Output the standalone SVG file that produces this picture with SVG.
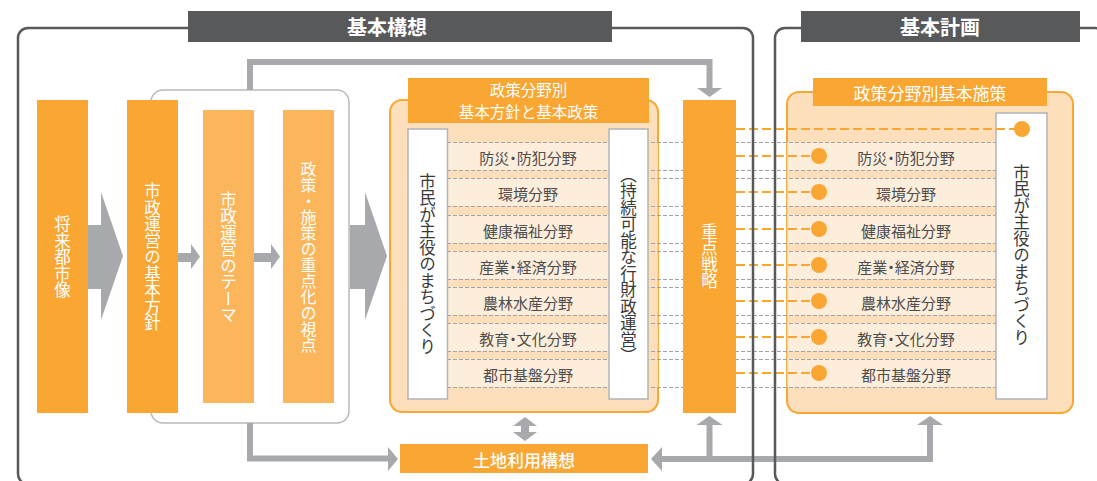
<svg xmlns="http://www.w3.org/2000/svg" width="1097" height="481" viewBox="0 0 1097 481">
<defs>
<style>
text { font-family: "Noto Sans CJK JP", "Noto Sans", sans-serif; }
.col { fill: #f9a633; }
.col2 { fill: #fbb65c; }
.vw { writing-mode: vertical-rl; text-anchor: middle; fill: #ffffff; font-size: 16.5px; }
.vd { writing-mode: vertical-rl; text-anchor: middle; fill: #3a3a3a; font-size: 16.5px; }
.panel { fill: #fde0bb; stroke: #f9a633; stroke-width: 2; }
.row { fill: #fdeedc; }
.rt { font-size: 15px; fill: #4d4d4d; text-anchor: middle; dominant-baseline: central; font-feature-settings: "palt"; }
.hdr { fill: #f9a633; }
.ht { fill: #ffffff; text-anchor: middle; dominant-baseline: central; font-size: 16px; }
.wbox { fill: #ffffff; stroke: #b3b4b6; stroke-width: 1.5; }
.gbox { fill: #ffffff; stroke: #b8b9bb; stroke-width: 1.5; }
.gd { stroke: #a3a3a3; stroke-width: 1; stroke-dasharray: 4 2; fill: none; }
.od { stroke: #f9a633; stroke-width: 2; stroke-dasharray: 9 4; fill: none; }
.dot { fill: #f9a633; }
.gl { stroke: #a7a9ac; stroke-width: 6; fill: none; stroke-linejoin: miter; }
.ga { fill: #a7a9ac; }
.frame { fill: none; stroke: #58595b; stroke-width: 2.5; }
.tbar { fill: #58595b; }
.tt { fill: #ffffff; font-size: 20px; font-weight: bold; text-anchor: middle; dominant-baseline: central; }
.green { stroke: #cfe5bd; stroke-width: 1.2; }
</style>
</defs>
<rect width="1097" height="481" fill="#ffffff"/>

<!-- policy panel (middle) -->
<g id="panel-policy">
  <rect class="panel" x="390" y="100" width="268" height="312" rx="12"/>
  <rect class="hdr" x="408" y="78" width="241" height="45"/>
  <text class="ht" style="font-size:15.5px"><tspan x="528.5" y="88.5">政策分野別</tspan><tspan x="528.5" y="111">基本方針と基本政策</tspan></text>
</g>

<!-- measures panel (right) -->
<g id="panel-measures">
  <rect class="panel" x="787" y="92" width="286" height="321" rx="12"/>
  <rect class="hdr" x="813" y="78" width="234" height="28"/>
  <text class="ht" x="930" y="92.5" style="font-size:17px">政策分野別基本施策</text>
</g>

<!-- policy field rows -->
<g id="rows">
  <rect class="row" x="447" y="142" width="162" height="28"/>
  <rect class="row" x="447" y="178" width="162" height="28"/>
  <rect class="row" x="447" y="215" width="162" height="28"/>
  <rect class="row" x="447" y="251" width="162" height="28"/>
  <rect class="row" x="447" y="287" width="162" height="28"/>
  <rect class="row" x="447" y="323" width="162" height="28"/>
  <rect class="row" x="447" y="359" width="162" height="28"/>
  <rect class="row" x="787" y="142" width="209" height="28"/>
  <rect class="row" x="787" y="178" width="209" height="28"/>
  <rect class="row" x="787" y="215" width="209" height="28"/>
  <rect class="row" x="787" y="251" width="209" height="28"/>
  <rect class="row" x="787" y="287" width="209" height="28"/>
  <rect class="row" x="787" y="323" width="209" height="28"/>
  <rect class="row" x="787" y="359" width="209" height="28"/>
  <line class="green" x1="657.5" y1="142" x2="657.5" y2="387"/>
  <line class="green" x1="787.5" y1="142" x2="787.5" y2="387"/>
  <path class="gd" d="M447,142.5H996M447,170.5H996M447,178.5H996M447,206.5H996M447,215.5H996M447,243.5H996M447,251.5H996M447,279.5H996M447,287.5H996M447,315.5H996M447,323.5H996M447,351.5H996M447,359.5H996M447,387.5H996"/>
  <text class="rt" x="528" y="157">防災・防犯分野</text>
  <text class="rt" x="528" y="193">環境分野</text>
  <text class="rt" x="528" y="230">健康福祉分野</text>
  <text class="rt" x="528" y="266">産業・経済分野</text>
  <text class="rt" x="528" y="302">農林水産分野</text>
  <text class="rt" x="528" y="338">教育・文化分野</text>
  <text class="rt" x="528" y="374">都市基盤分野</text>
  <text class="rt" x="906" y="157">防災・防犯分野</text>
  <text class="rt" x="906" y="193">環境分野</text>
  <text class="rt" x="906" y="230">健康福祉分野</text>
  <text class="rt" x="906" y="266">産業・経済分野</text>
  <text class="rt" x="906" y="302">農林水産分野</text>
  <text class="rt" x="906" y="338">教育・文化分野</text>
  <text class="rt" x="906" y="374">都市基盤分野</text>
</g>

<g id="node-shimin-left">
  <rect class="wbox" x="408" y="129" width="39.5" height="270"/>
  <text class="vd" x="427.5" y="264">市民が主役のまちづくり</text>
</g>
<g id="node-zaisei">
  <rect class="wbox" x="609" y="129" width="39" height="270"/>
  <text class="vd" x="628.5" y="265">（持続可能な行財政運営）</text>
</g>
<g id="node-shimin-right">
  <rect class="wbox" x="996" y="113" width="51" height="286"/>
  <text class="vd" x="1021.5" y="255">市民が主役のまちづくり</text>
</g>
<g id="node-juten">
  <rect class="col" x="683" y="100" width="53" height="313"/>
  <text class="vw" x="709.5" y="256">重点戦略</text>
</g>

<g id="node-shisei-group">
  <rect class="gbox" x="151" y="90" width="198" height="333" rx="12"/>
</g>
<g id="node-shourai">
  <rect class="col" x="37" y="100" width="51" height="313"/>
  <text class="vw" x="62.5" y="257">将来都市像</text>
</g>
<g id="node-kihonhoushin">
  <rect class="col" x="127" y="100" width="51" height="313"/>
  <text class="vw" x="152.5" y="257">市政運営の基本方針</text>
</g>
<g id="node-theme">
  <rect class="col2" x="203" y="110" width="51" height="293"/>
  <text class="vw" x="228.5" y="257">市政運営のテーマ</text>
</g>
<g id="node-shiten">
  <rect class="col2" x="283" y="110" width="51" height="293"/>
  <text class="vw" x="308.5" y="257" style="font-size:16px">政策・施策の重点化の視点</text>
</g>
<g id="node-tochi">
  <rect class="col" x="400" y="444" width="248" height="29"/>
  <text class="ht" x="524" y="459" style="font-size:17px;font-weight:500">土地利用構想</text>
</g>

<g id="connectors">
  <path class="ga" d="M88,225H101V192L123,256L101,320V289H88Z"/>
  <path class="ga" d="M350,225H365V192L387,256L365,320V289H350Z"/>
  <path class="ga" d="M178,253H191V244L200,256.5L191,269V262H178Z"/>
  <path class="ga" d="M254,253H271V244L280,256.5L271,269V262H254Z"/>
  <path class="gl" d="M250,90V62H709.5V89"/>
  <path class="ga" d="M697,88H722L709.5,97Z"/>
  <path class="gl" d="M250,423V458.5H389"/>
  <path class="ga" d="M388,447L398,459L388,471Z"/>
  <path class="gl" d="M930,424V459H661"/>
  <path class="gl" d="M709.5,459V424"/>
  <path class="ga" d="M917,425H943L930,416Z"/>
  <path class="ga" d="M696.5,425H722.5L709.5,416Z"/>
  <path class="ga" d="M662,447V471L651,459Z"/>
  <path class="ga" d="M525,417L537,426H529V432H537L525,441L513,432H521V426H513Z"/>
  <path class="od" d="M736,129H1022M736,156H819M736,192H819M736,229H819M736,265H819M736,301H819M736,337H819M736,373H819"/>
  <circle class="dot" cx="1022" cy="129" r="8"/>
  <circle class="dot" cx="819" cy="156" r="8"/>
  <circle class="dot" cx="819" cy="192" r="8"/>
  <circle class="dot" cx="819" cy="229" r="8"/>
  <circle class="dot" cx="819" cy="265" r="8"/>
  <circle class="dot" cx="819" cy="301" r="8"/>
  <circle class="dot" cx="819" cy="337" r="8"/>
  <circle class="dot" cx="819" cy="373" r="8"/>
</g>

<g id="frame-kihonkousou">
  <rect class="frame" x="18" y="28" width="735" height="456" rx="10"/>
  <rect class="tbar" x="188" y="11" width="424" height="31"/>
  <text class="tt" x="387" y="26.5">基本構想</text>
</g>
<g id="frame-kihonkeikaku">
  <rect class="frame" x="775" y="28" width="330" height="456" rx="10"/>
  <rect class="tbar" x="801" y="11" width="279" height="31"/>
  <text class="tt" x="940" y="26.5">基本計画</text>
</g>
</svg>
